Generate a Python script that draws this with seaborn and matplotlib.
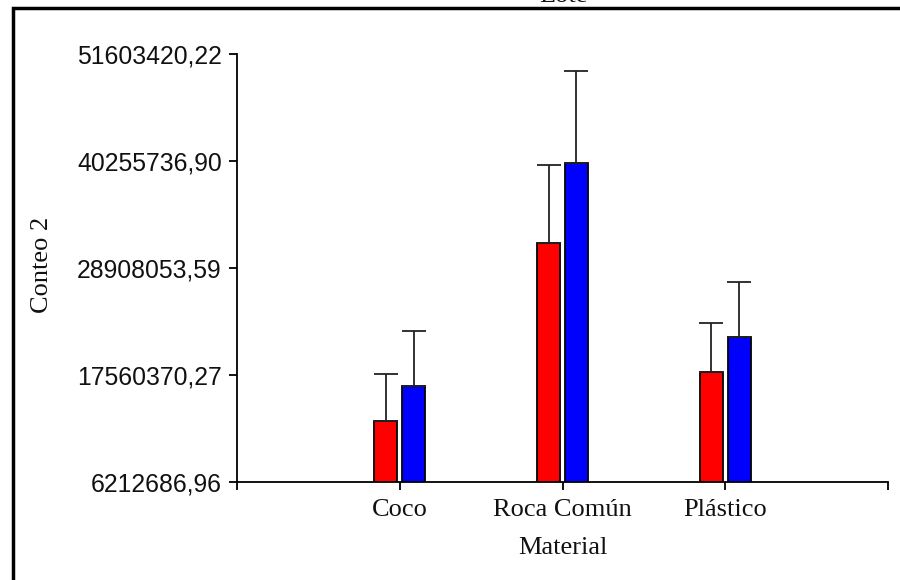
import numpy as np
import pandas as pd
import seaborn as sns
import matplotlib.pyplot as plt
from matplotlib.patches import Rectangle

materiales = ["Coco", "Roca Común", "Plástico"]
grupos = ["Rojo", "Azul"]
media_rojo = [12.64e6, 31.56e6, 17.88e6]
media_azul = [16.39e6, 40.00e6, 21.59e6]
error_rojo = [5.03e6, 8.23e6, 5.19e6]
error_azul = [5.79e6, 9.76e6, 5.79e6]
y_ticks = [6212686.96, 17560370.27, 28908053.59, 40255736.90, 51603420.22]

df = pd.DataFrame({
    "Material": materiales * 2,
    "Grupo": [grupos[0]] * 3 + [grupos[1]] * 3,
    "Conteo": media_rojo + media_azul,
})

sns.set_style("white")
serif = ["Liberation Serif", "DejaVu Serif"]

fig = plt.figure(figsize=(9, 5.8), dpi=100)
ax = fig.add_axes([237 / 900, 1 - 482 / 580, 651 / 900, 428 / 580])

sns.barplot(data=df, x="Material", y="Conteo", hue="Grupo",
            palette=["#ff0000", "#0000ff"], saturation=1,
            width=0.34, gap=0.17, edgecolor="black", linewidth=1.3,
            errorbar=None, legend=False, ax=ax)

# barras de error solo hacia arriba
for cont, errs in zip(ax.containers, [error_rojo, error_azul]):
    xs = [b.get_x() + b.get_width() / 2 for b in cont]
    ys = [b.get_height() for b in cont]
    ax.errorbar(xs, ys, yerr=[np.zeros(len(errs)), errs], fmt="none",
                ecolor="#222222", elinewidth=1.3, capsize=8.5,
                capthick=1.3, zorder=5)

ax.set_xlim(-1, 3)
ax.set_ylim(y_ticks[0], y_ticks[-1])
ax.set_yticks(y_ticks)
ax.set_yticklabels([f"{v:.2f}".replace(".", ",") for v in y_ticks],
                   family=["Liberation Sans", "DejaVu Sans"], fontsize=17.8)
ax.set_xticks(range(len(materiales)))
ax.set_xticklabels(materiales, family=serif, fontsize=19)
ax.set_xticks([-1, 3], minor=True)

for s in ["top", "right"]:
    ax.spines[s].set_visible(False)
for s in ["left", "bottom"]:
    ax.spines[s].set_color("black")
    ax.spines[s].set_linewidth(1.3)

ax.tick_params(axis="both", which="both", direction="out", length=6,
               width=1.3, color="black", labelcolor="#111111")
ax.tick_params(axis="x", which="major", pad=6.5)
ax.tick_params(axis="y", pad=5)
ax.tick_params(left=True, bottom=True)
ax.tick_params(axis="x", which="minor", bottom=True)

ax.set_xlabel("Material", family=serif, fontsize=19, color="#111111")
ax.set_ylabel("Conteo 2", family=serif, fontsize=19, color="#111111")
ax.xaxis.set_label_coords(0.5, -0.128)
ax.yaxis.set_label_coords(-0.283, 0.507)

# título cortado por el borde superior, como en el original
fig.text(563 / 900, 1 - 2.5 / 580, "Lote", family=serif, fontsize=19,
         ha="center", va="baseline", color="#111111")

# marco exterior (cortado a la derecha y abajo)
fig.patches.append(Rectangle((13 / 900, -0.1), 1.2, 1 - 7.5 / 580 + 0.1,
                             transform=fig.transFigure, fill=False,
                             edgecolor="black", linewidth=2.5))

fig.savefig("out.png", dpi=100)
